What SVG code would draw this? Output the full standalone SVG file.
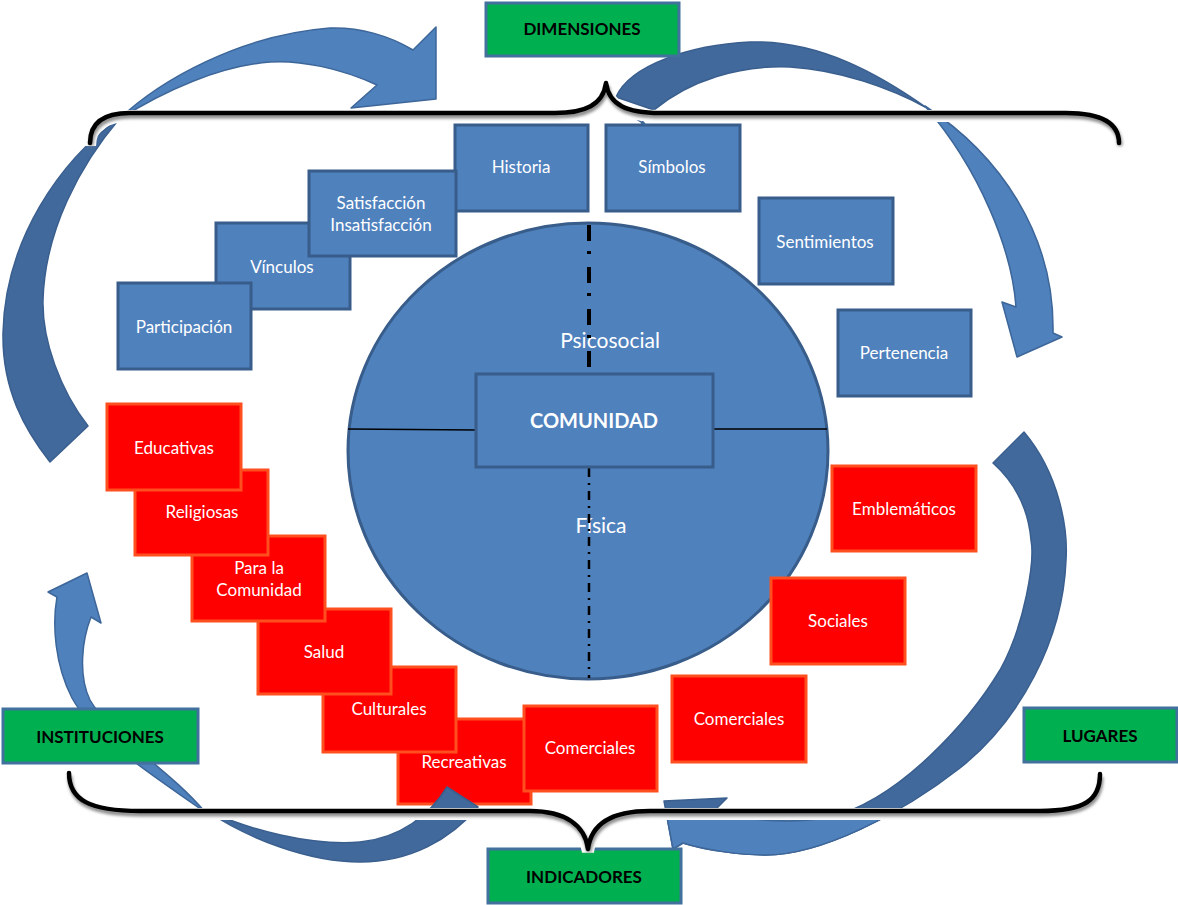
<svg xmlns="http://www.w3.org/2000/svg" width="1178" height="905" viewBox="0 0 1178 905">
  <defs>
    <style>
      text { font-family: Lato, "Liberation Sans", sans-serif; text-anchor: middle; }
      .dim rect { fill: #4F81BD; stroke: #385D8A; stroke-width: 3; }
      .ind rect { fill: #FF0000; stroke: #FF4F1F; stroke-width: 3; }
      .cat rect { fill: #00B050; stroke: #41719C; stroke-width: 3; }
      .dim text, .ind text { fill: #FFFFFF; font-size: 17px; }
      .cat text { fill: #000000; font-size: 17px; font-weight: bold; }
      .core { fill: #4F81BD; stroke: #385D8A; stroke-width: 3; }
      .core-label { fill: #FFFFFF; font-size: 21px; }
      .arrow-dark { fill: #41699C; stroke: #3A5F8E; stroke-width: 1.5; stroke-linejoin: round; }
      .arrow-light { fill: #4F81BD; stroke: #3D6699; stroke-width: 1.5; stroke-linejoin: round; }
      .brace { fill: none; stroke: #000000; stroke-width: 4.5; stroke-linecap: round; stroke-linejoin: round; }
      .brace-halo { fill: none; stroke: #FFFFFF; stroke-width: 12; }
      .brace-shadow { fill: none; stroke: #8C8C8C; stroke-width: 5; filter: url(#soft); }
    </style>
    <filter id="soft" x="-5%" y="-20%" width="110%" height="140%">
      <feGaussianBlur stdDeviation="1.8"/>
    </filter>
    <marker id="tip" viewBox="0 0 10 10" refX="9" refY="5" markerWidth="6" markerHeight="6" orient="auto" markerUnits="userSpaceOnUse">
      <path d="M0,1 L10,5 L0,9 Z" fill="#3D6699"/>
    </marker>
    <clipPath id="below-lower-brace"><rect x="0" y="812" width="1178" height="93"/></clipPath>
    <path id="top-brace" d="M 90,143 C 90,122 105,113 130,113 L 555,113 C 585,113 603,105 606,83 C 609,105 627,113 660,113 L 1066,113 C 1100,113 1119,122 1119,143"/>
    <path id="bottom-brace" d="M 69,773 C 69,800 90,811 140,811 L 530,811 C 565,811 585,825 588,849 C 591,825 610,811 650,811 L 1040,811 C 1085,811 1100,800 1100,774"/>
  </defs>

  <rect x="0" y="0" width="1178" height="905" fill="#FFFFFF"/>

  <!-- central community circle -->
  <g id="comunidad">
    <ellipse class="core" cx="588" cy="451" rx="240" ry="228"/>
    <text class="core-label" x="610" y="348">Psicosocial</text>
    <text class="core-label" x="601" y="533">Física</text>
    <line x1="348" y1="429" x2="476" y2="430" stroke="#000" stroke-width="1.5"/>
    <line x1="713" y1="429" x2="827" y2="429" stroke="#000" stroke-width="1.5"/>
    <line x1="589" y1="225" x2="589" y2="374" stroke="#000" stroke-width="4" stroke-dasharray="16 10 3 13"/>
    <line x1="589" y1="468" x2="589" y2="678" stroke="#000" stroke-width="2.5" stroke-dasharray="9 6 2 6"/>
    <rect class="core" x="476" y="374" width="237" height="93"/>
    <text x="594" y="428" fill="#FFFFFF" font-size="20" font-weight="bold">COMUNIDAD</text>
  </g>

  <!-- psychosocial dimensions -->
  <g id="vinculos" class="dim">
    <rect x="216" y="223" width="134" height="86"/>
    <text x="282" y="273">Vínculos</text>
  </g>
  <g id="participacion" class="dim">
    <rect x="118" y="283" width="133" height="86"/>
    <text x="184" y="333">Participación</text>
  </g>
  <g id="historia" class="dim">
    <rect x="455" y="125" width="133" height="86"/>
    <text x="521" y="173">Historia</text>
  </g>
  <g id="satisfaccion" class="dim">
    <rect x="309" y="171" width="147" height="85"/>
    <text x="381" y="209">Satisfacción</text>
    <text x="381" y="231">Insatisfacción</text>
  </g>
  <g id="simbolos" class="dim">
    <rect x="606" y="125" width="134" height="86"/>
    <text x="672" y="173">Símbolos</text>
  </g>
  <g id="sentimientos" class="dim">
    <rect x="759" y="198" width="134" height="86"/>
    <text x="825" y="248">Sentimientos</text>
  </g>
  <g id="pertenencia" class="dim">
    <rect x="838" y="310" width="133" height="86"/>
    <text x="904" y="359">Pertenencia</text>
  </g>

  <!-- institutions and places -->
  <g id="recreativas" class="ind">
    <rect x="398" y="719" width="133" height="85"/>
    <text x="464" y="768">Recreativas</text>
  </g>
  <g id="culturales" class="ind">
    <rect x="323" y="667" width="133" height="85"/>
    <text x="389" y="715">Culturales</text>
  </g>
  <g id="salud" class="ind">
    <rect x="258" y="609" width="133" height="85"/>
    <text x="324" y="658">Salud</text>
  </g>
  <g id="para-la-comunidad" class="ind">
    <rect x="192" y="536" width="133" height="85"/>
    <text x="259" y="574">Para la</text>
    <text x="259" y="596">Comunidad</text>
  </g>
  <g id="religiosas" class="ind">
    <rect x="135" y="470" width="133" height="85"/>
    <text x="202" y="518">Religiosas</text>
  </g>
  <g id="educativas" class="ind">
    <rect x="107" y="404" width="134" height="86"/>
    <text x="174" y="454">Educativas</text>
  </g>
  <g id="comerciales-instituciones" class="ind">
    <rect x="524" y="706" width="133" height="85"/>
    <text x="590" y="754">Comerciales</text>
  </g>
  <g id="comerciales-lugares" class="ind">
    <rect x="672" y="676" width="134" height="86"/>
    <text x="739" y="725">Comerciales</text>
  </g>
  <g id="sociales" class="ind">
    <rect x="771" y="578" width="134" height="86"/>
    <text x="838" y="627">Sociales</text>
  </g>
  <g id="emblematicos" class="ind">
    <rect x="832" y="466" width="144" height="85"/>
    <text x="904" y="515">Emblemáticos</text>
  </g>

  <!-- cycle arrows -->
  <g id="connectors">
    <!-- upper left: rises from the institutions side toward the dimensions -->
    <path class="arrow-dark" d="M 120,118 C 60,160 5,240 3,333 C 2,390 25,430 50,462 L 88,426 C 60,390 42,340 43,300 C 45,230 80,165 120,118 Z"/>
    <path class="arrow-light" d="M 118,120 C 160,80 240,35 330,28 C 360,27 390,36 413,50 L 436,27 L 436,99 L 351,108 L 377,85 C 340,68 300,60 270,62 C 220,66 165,90 118,120 Z"/>

    <!-- upper right: from the dimensions down to the places side -->
    <path class="arrow-dark" d="M 616,97 C 630,65 690,45 750,42 C 820,40 880,75 927,108 C 890,88 840,70 790,67 C 740,65 690,80 654,110 Z"/>
    <path class="arrow-light" d="M 925,106 C 1000,155 1055,235 1053,333 L 1062,337 L 1017,357 L 1002,302 L 1016,307 C 1012,250 980,170 925,106 Z"/>
    <path d="M 608,104 Q 626,112 646,125" fill="none" stroke="#3D6699" stroke-width="1.5" marker-end="url(#tip)"/>

    <!-- lower right: from the places side toward the indicators -->
    <path id="lower-right-arrow" class="arrow-dark" d="M 1024,432 C 1060,475 1068,530 1066,560 C 1063,640 1020,720 960,768 C 900,815 820,855 766,855 C 740,855 705,850 683,843 L 673,849 L 664,801 L 727,798 L 715,810 C 740,820 790,825 830,817 C 900,800 970,720 1000,670 C 1025,625 1035,560 1031,540 C 1028,505 1012,480 993,463 Z"/>
    <path class="arrow-light" clip-path="url(#below-lower-brace)" d="M 1024,432 C 1060,475 1068,530 1066,560 C 1063,640 1020,720 960,768 C 900,815 820,855 766,855 C 740,855 705,850 683,843 L 673,849 L 664,801 L 727,798 L 715,810 C 740,820 790,825 830,817 C 900,800 970,720 1000,670 C 1025,625 1035,560 1031,540 C 1028,505 1012,480 993,463 Z"/>

    <!-- lower left: from the indicators up to the institutions side -->
    <path class="arrow-dark" d="M 205,810 C 250,840 310,862 360,862 C 410,862 450,840 478,807 L 447,787 C 430,815 400,838 360,842 C 310,846 250,830 205,810 Z"/>
    <path class="arrow-light" d="M 205,812 C 160,780 95,740 72,698 C 55,665 52,625 57,597 L 48,592 L 87,573 L 101,623 L 91,617 C 82,640 78,675 90,700 C 110,735 170,770 205,812 Z"/>
  </g>

  <!-- category labels -->
  <g id="dimensiones" class="cat">
    <rect x="486" y="3" width="193" height="53"/>
    <text x="582" y="35">DIMENSIONES</text>
  </g>
  <g id="instituciones" class="cat">
    <rect x="3" y="709" width="195" height="54"/>
    <text x="100" y="743">INSTITUCIONES</text>
  </g>
  <g id="lugares" class="cat">
    <rect x="1024" y="708" width="153" height="54"/>
    <text x="1100" y="742">LUGARES</text>
  </g>
  <g id="indicadores" class="cat">
    <rect x="488" y="849" width="193" height="54"/>
    <text x="584" y="883">INDICADORES</text>
  </g>

  <!-- grouping braces -->
  <g id="braces">
    <use href="#top-brace" class="brace-halo" transform="translate(0,3)"/>
    <use href="#top-brace" class="brace-shadow" transform="translate(1,3)"/>
    <use href="#top-brace" class="brace"/>
    <use href="#bottom-brace" class="brace-halo" transform="translate(0,3)"/>
    <use href="#bottom-brace" class="brace-shadow" transform="translate(1,3)"/>
    <use href="#bottom-brace" class="brace"/>
  </g>
</svg>
